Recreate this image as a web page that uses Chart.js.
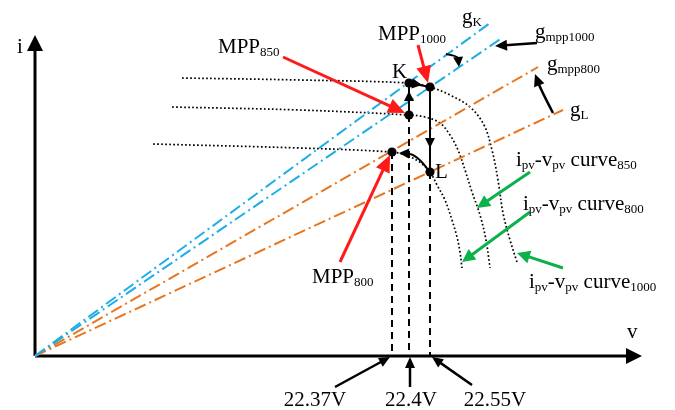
<!DOCTYPE html>
<html>
<head>
<meta charset="utf-8">
<script src="https://cdn.jsdelivr.net/npm/chart.js@4/dist/chart.umd.min.js"></script>
<style>
  html, body { margin: 0; padding: 0; background: #ffffff; }
  canvas { display: block; }
</style>
</head>
<body>
<canvas id="chart" width="675" height="410"></canvas>
<script>
// Working plane: v to the right, i upward, origin where the two axes meet.
const vAxisEnd = [607, 0];
const iAxisEnd = [0, 321];

// Operating points
const opNames = ['MPP1000', 'K', 'MPP850', 'MPP800', 'L'];
const opV = [395, 374, 374, 357, 395];
const opI = [269, 273, 241, 204, 184];

// Load lines g through the origin (end points)
const gNames = ['gK', 'gmpp1000', 'gmpp800', 'gL'];
const gEndV = [455, 467, 503, 528];
const gEndI = [333, 318, 289, 246];

// i_pv - v_pv curves at 1000, 850 and 800 W/m²
const curve1000V = [147, 265, 374, 395, 415, 435, 449, 457, 463, 468, 475, 482];
const curve1000I = [278, 276, 273, 269, 261, 249, 231, 206, 176, 143, 116, 94];
const curve850V = [137, 265, 374, 390, 405, 415, 423, 430, 437, 445, 451, 455];
const curve850I = [249, 246, 241, 239, 233, 221, 206, 186, 164, 141, 116, 88];
const curve800V = [118, 265, 357, 370, 383, 395, 402, 410, 417, 422, 425, 427];
const curve800I = [212, 208, 204, 201, 195, 184, 171, 156, 136, 119, 104, 88];

// Voltage ticks marked on the v axis
const voltTickLabels = ['22.37V', '22.4V', '22.55V'];
const voltTickV = [357, 374, 395];

const pts = (vs, is) => vs.map((v, k) => ({ x: v, y: is[k] }));
const op = name => { const k = opNames.indexOf(name); return { x: opV[k], y: opI[k] }; };
const ORIGIN = { x: 0, y: 0 };

const BLUE = '#1DAEE5';
const ORANGE = '#E8761F';
const RED = '#FF1A1A';
const GREEN = '#0DB14B';
const SERIF = '"Liberation Serif", "Times New Roman", serif';

const lineDs = (data, color, width, dash, order) => ({
  type: 'line', data, borderColor: color, borderWidth: width, borderDash: dash || [],
  pointRadius: 0, fill: false, tension: 0, order, clip: false, borderCapStyle: 'butt'
});

const datasets = [];
// Operating point dots (on top)
datasets.push({
  type: 'scatter', data: pts(opV, opI), pointRadius: 4.6, pointBackgroundColor: '#000',
  pointBorderWidth: 0, order: 0, clip: false
});
// Solid transition segments between operating points
datasets.push(lineDs([op('K'), op('MPP1000')], '#000', 2, [], 1));
datasets.push(lineDs([op('MPP850'), op('K')], '#000', 2, [], 1));
datasets.push(lineDs([op('MPP1000'), op('L')], '#000', 2, [], 1));
// Dashed projections down to the v axis
voltTickV.forEach((v, k) => {
  const p = op(['MPP800', 'MPP850', 'L'][k]);
  datasets.push(lineDs([p, { x: v, y: 0 }], '#000', 2, [7, 5], 2));
});
// Load lines
gNames.forEach((n, k) => {
  datasets.push(lineDs([ORIGIN, { x: gEndV[k], y: gEndI[k] }], k < 2 ? BLUE : ORANGE, 2, [12, 4, 2, 4], 3));
});
// I-V curves (dotted)
[[curve1000V, curve1000I], [curve850V, curve850I], [curve800V, curve800I]].forEach(([v, i]) => {
  const d = lineDs(pts(v, i), '#000', 1.7, [1.7, 2.3], 4);
  d.tension = 0.35;
  datasets.push(d);
});
// Axes (shafts; heads added by the plugin)
datasets.push(lineDs([ORIGIN, { x: vAxisEnd[0] - 16, y: 0 }], '#000', 3, [], 5));
datasets.push(lineDs([ORIGIN, { x: 0, y: iAxisEnd[1] - 16 }], '#000', 3, [], 5));

// Arrows: pointers and transitions
const arrows = [
  // axes heads
  { from: [vAxisEnd[0] - 16, 0], to: vAxisEnd, color: '#000', width: 0, head: [16, 8] },
  { from: [0, iAxisEnd[1] - 16], to: iAxisEnd, color: '#000', width: 0, head: [16, 8] },
  // red pointers to MPPs
  { from: [248, 299], to: [370, 243], color: RED, width: 3, head: [17, 7.5] },
  { from: [383, 311], to: [393, 273], color: RED, width: 3, head: [17, 7.5] },
  { from: [305, 94], to: [355, 201], color: RED, width: 3, head: [17, 7.5] },
  // green pointers to curves
  { from: [495, 184], to: [442, 148], color: GREEN, width: 3, head: [13, 6.5] },
  { from: [495, 144], to: [427, 94], color: GREEN, width: 3, head: [13, 6.5] },
  { from: [528, 88], to: [482, 103], color: GREEN, width: 3, head: [13, 6.5] },
  // black pointers
  { from: [502, 313], to: [460, 310], color: '#000', width: 2.5, head: [12, 5.5] },
  { from: [411, 302], ctrl: [423, 300], to: [424, 289], color: '#000', width: 2, head: [10, 5] },
  { from: [518, 243], ctrl: [506, 266], to: [500, 282], color: '#000', width: 2.5, head: [12, 5.5] },
  // heads on the transition segments
  { from: [374, 273], to: [387, 271], color: '#000', width: 0, head: [10, 5] },
  { from: [374, 241], to: [374, 265], color: '#000', width: 0, head: [10, 5] },
  { from: [395, 269], to: [395, 208], color: '#000', width: 0, head: [10, 5] },
  { from: [394, 185], ctrl: [382, 202], to: [364, 203], color: '#000', width: 2, head: [10, 5] },
  // voltage tick pointers
  { from: [300, -31], to: [voltTickV[0] - 2, -1], color: '#000', width: 2.5, head: [11, 5] },
  { from: [voltTickV[1] + 1, -31], to: [voltTickV[1] + 1, -1], color: '#000', width: 2.5, head: [11, 5] },
  { from: [437, -29], to: [voltTickV[2] + 2, -1], color: '#000', width: 2.5, head: [11, 5] }
];

// Text labels: segments of [text, isSubscript]
const labels = [
  { at: [-18, 303], segs: [['i', 0]] },
  { at: [592, 18], segs: [['v', 0]] },
  { at: [183, 303], segs: [['MPP', 0], ['850', 1]] },
  { at: [343, 316], segs: [['MPP', 0], ['1000', 1]] },
  { at: [277, 73], segs: [['MPP', 0], ['800', 1]] },
  { at: [357, 278], segs: [['K', 0]] },
  { at: [400, 178], segs: [['L', 0]] },
  { at: [427, 333], segs: [['g', 0], ['K', 1]] },
  { at: [500, 318], segs: [['g', 0], ['mpp1000', 1]] },
  { at: [512, 286], segs: [['g', 0], ['mpp800', 1]] },
  { at: [535, 240], segs: [['g', 0], ['L', 1]] },
  { at: [481, 190], segs: [['i', 0], ['pv', 1], ['-v', 0], ['pv', 1], [' curve', 0], ['850', 1]] },
  { at: [488, 146], segs: [['i', 0], ['pv', 1], ['-v', 0], ['pv', 1], [' curve', 0], ['800', 1]] },
  { at: [494, 68], segs: [['i', 0], ['pv', 1], ['-v', 0], ['pv', 1], [' curve', 0], ['1000', 1]] }
];
const tickLabelCenters = [280, 376, 460];
const tickLabelI = -50;

const annotate = {
  id: 'annotate',
  afterDatasetsDraw(chart) {
    const { ctx, scales: { x, y } } = chart;
    const P = ([v, i]) => [x.getPixelForValue(v), y.getPixelForValue(i)];
    ctx.save();
    arrows.forEach(a => {
      const f = P(a.from), t = P(a.to), c = a.ctrl ? P(a.ctrl) : null;
      const base = c || f;
      const ang = Math.atan2(t[1] - base[1], t[0] - base[0]);
      const [hl, hw] = a.head;
      const bx = t[0] - Math.cos(ang) * hl * 0.85, by = t[1] - Math.sin(ang) * hl * 0.85;
      if (a.width > 0) {
        ctx.beginPath();
        ctx.strokeStyle = a.color;
        ctx.lineWidth = a.width;
        ctx.lineCap = 'butt';
        ctx.moveTo(f[0], f[1]);
        if (c) ctx.quadraticCurveTo(c[0], c[1], bx, by); else ctx.lineTo(bx, by);
        ctx.stroke();
      }
      ctx.beginPath();
      ctx.fillStyle = a.color;
      ctx.moveTo(t[0], t[1]);
      ctx.lineTo(t[0] - Math.cos(ang) * hl - Math.sin(ang) * hw, t[1] - Math.sin(ang) * hl + Math.cos(ang) * hw);
      ctx.lineTo(t[0] - Math.cos(ang) * hl + Math.sin(ang) * hw, t[1] - Math.sin(ang) * hl - Math.cos(ang) * hw);
      ctx.closePath();
      ctx.fill();
    });
    ctx.fillStyle = '#000';
    ctx.textBaseline = 'alphabetic';
    ctx.textAlign = 'left';
    labels.forEach(l => {
      let [px, py] = P(l.at);
      l.segs.forEach(([txt, sub]) => {
        ctx.font = (sub ? '13px ' : '21px ') + SERIF;
        ctx.fillText(txt, px, py + (sub ? 3 : 0));
        px += ctx.measureText(txt).width;
      });
    });
    ctx.font = '21px ' + SERIF;
    ctx.textAlign = 'center';
    voltTickLabels.forEach((t, k) => {
      const [px, py] = P([tickLabelCenters[k], tickLabelI]);
      ctx.fillText(t, px, py);
    });
    ctx.restore();
  }
};

new Chart(document.getElementById('chart'), {
  type: 'scatter',
  data: { datasets },
  options: {
    responsive: false,
    animation: false,
    events: [],
    layout: { padding: 0, autoPadding: false },
    plugins: { legend: { display: false }, tooltip: { enabled: false } },
    scales: {
      x: { type: 'linear', min: -35, max: 640, display: false },
      y: { type: 'linear', min: -54, max: 356, display: false }
    }
  },
  plugins: [annotate]
});
</script>
</body>
</html>
